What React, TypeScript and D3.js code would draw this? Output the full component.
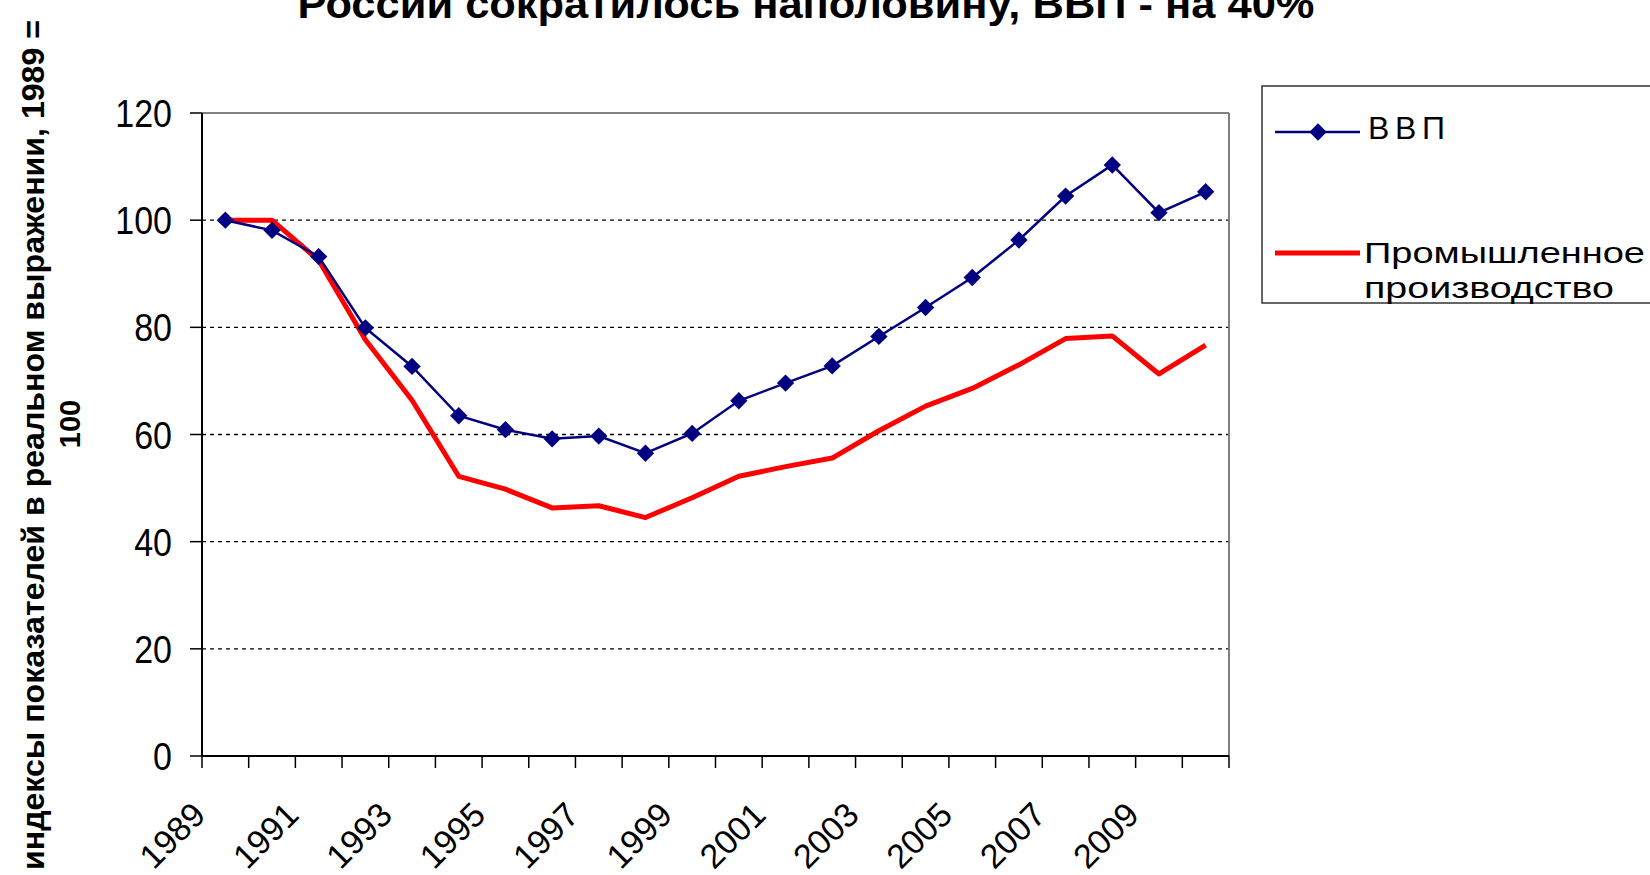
import React, { useEffect, useRef } from 'react';
import * as d3 from 'd3';

const years = ['1989', '1990', '1991', '1992', '1993', '1994', '1995', '1996', '1997', '1998', '1999',
  '2000', '2001', '2002', '2003', '2004', '2005', '2006', '2007', '2008', '2009', '2010'];

const tickYears = ['1989', '1991', '1993', '1995', '1997', '1999', '2001', '2003', '2005', '2007', '2009'];

const gdp = [100, 98.1, 93.2, 79.9, 72.7, 63.5, 60.9, 59.2, 59.7, 56.5, 60.2,
  66.3, 69.6, 72.8, 78.3, 83.7, 89.3, 96.3, 104.5, 110.3, 101.4, 105.3];

const industry = [100, 100, 92.5, 77.7, 66.4, 52.2, 49.8, 46.3, 46.7, 44.5, 48.2,
  52.2, 54.0, 55.6, 60.7, 65.3, 68.6, 73.0, 77.9, 78.4, 71.3, 76.7];

const yTicks = [0, 20, 40, 60, 80, 100, 120];

const seriesNames = ['ВВП', 'Промышленное', 'производство'];

const titleText = 'России сократилось наполовину, ВВП - на 40%';
const yLabel1 = 'индексы показателей в реальном выражении, 1989 =';
const yLabel2 = '100';

const FONT = 'Arial, "Liberation Sans", sans-serif';

function Chart() {
  const ref = useRef<SVGSVGElement>(null);

  useEffect(() => {
    const svg = d3.select(ref.current);
    svg.selectAll('*').remove();

    const left = 202, right = 1229, top = 113, bottom = 756;

    const x = d3.scaleBand().domain(years).range([left, right]).padding(0);
    const y = d3.scaleLinear().domain([0, 120]).range([bottom, top]);
    const cx = (yr: string) => (x(yr) as number) + x.bandwidth() / 2;

    // title (only its last line shows, top is cut by the picture edge)
    svg.append('text')
      .attr('x', 806).attr('y', 18)
      .attr('text-anchor', 'middle')
      .attr('font-family', FONT).attr('font-weight', 'bold').attr('font-size', 40)
      .attr('textLength', 1017).attr('lengthAdjust', 'spacingAndGlyphs')
      .text(titleText);

    // y axis title
    svg.append('text')
      .attr('transform', 'translate(44,870) rotate(-90)')
      .attr('font-family', FONT).attr('font-weight', 'bold').attr('font-size', 31)
      .attr('textLength', 850).attr('lengthAdjust', 'spacingAndGlyphs')
      .text(yLabel1);
    svg.append('text')
      .attr('transform', 'translate(80,424) rotate(-90)')
      .attr('text-anchor', 'middle')
      .attr('font-family', FONT).attr('font-weight', 'bold').attr('font-size', 29)
      .text(yLabel2);

    // grid
    svg.append('g').selectAll('line')
      .data(yTicks.filter(t => t > 0 && t < 120))
      .enter().append('line')
      .attr('x1', left).attr('x2', right)
      .attr('y1', d => y(d)).attr('y2', d => y(d))
      .attr('stroke', '#000').attr('stroke-width', 1.3)
      .attr('stroke-dasharray', '4,4');

    // frame
    svg.append('line').attr('x1', left).attr('x2', right).attr('y1', top).attr('y2', top)
      .attr('stroke', '#808080').attr('stroke-width', 2);
    svg.append('line').attr('x1', right).attr('x2', right).attr('y1', top).attr('y2', bottom)
      .attr('stroke', '#808080').attr('stroke-width', 2);
    svg.append('line').attr('x1', left).attr('x2', left).attr('y1', top).attr('y2', bottom)
      .attr('stroke', '#000').attr('stroke-width', 2);
    svg.append('line').attr('x1', left).attr('x2', right).attr('y1', bottom).attr('y2', bottom)
      .attr('stroke', '#000').attr('stroke-width', 2);

    // y ticks + labels
    const yg = svg.append('g');
    yg.selectAll('line').data(yTicks).enter().append('line')
      .attr('x1', left - 12).attr('x2', left)
      .attr('y1', d => y(d)).attr('y2', d => y(d))
      .attr('stroke', '#000').attr('stroke-width', 1.5);
    yg.selectAll('text').data(yTicks).enter().append('text')
      .attr('transform', d => 'translate(172,' + y(d) + ') scale(1,1.15)')
      .attr('dy', '0.36em')
      .attr('text-anchor', 'end')
      .attr('font-family', FONT).attr('font-size', 34)
      .text(d => d);

    // x ticks at band edges
    const edges = years.map(yr => x(yr) as number).concat([right]);
    svg.append('g').selectAll('line').data(edges).enter().append('line')
      .attr('x1', d => d).attr('x2', d => d)
      .attr('y1', bottom).attr('y2', bottom + 12)
      .attr('stroke', '#000').attr('stroke-width', 1.5);

    svg.append('g').selectAll('text').data(tickYears).enter().append('text')
      .attr('transform', d => 'translate(' + (cx(d) - 18) + ',817) rotate(-45)')
      .attr('text-anchor', 'end')
      .attr('font-family', FONT).attr('font-size', 34)
      .text(d => d);

    // lines
    const line = d3.line<number>()
      .x((d, i) => cx(years[i]))
      .y(d => y(d));

    svg.append('path')
      .attr('d', line(industry))
      .attr('fill', 'none').attr('stroke', '#ff0000').attr('stroke-width', 5)
      .attr('stroke-linejoin', 'round');

    svg.append('path')
      .attr('d', line(gdp))
      .attr('fill', 'none').attr('stroke', '#000080').attr('stroke-width', 2.5);

    const diamond = d3.symbol().type(d3.symbolSquare).size(150);
    svg.append('g').selectAll('path').data(gdp).enter().append('path')
      .attr('d', diamond)
      .attr('transform', (d, i) => 'translate(' + cx(years[i]) + ',' + y(d) + ') rotate(45)')
      .attr('fill', '#000080');

    // legend
    const lg = svg.append('g');
    lg.append('rect')
      .attr('x', 1262).attr('y', 86).attr('width', 420).attr('height', 217)
      .attr('fill', '#fff').attr('stroke', '#333').attr('stroke-width', 1.5);
    lg.append('line').attr('x1', 1275).attr('x2', 1360).attr('y1', 132).attr('y2', 132)
      .attr('stroke', '#000080').attr('stroke-width', 2.5);
    lg.append('path').attr('d', diamond)
      .attr('transform', 'translate(1318,132) rotate(45)').attr('fill', '#000080');
    lg.append('text').attr('x', 1368).attr('y', 139)
      .attr('font-family', FONT).attr('font-size', 32)
      .attr('textLength', 77).attr('lengthAdjust', 'spacing')
      .text(seriesNames[0]);
    lg.append('line').attr('x1', 1275).attr('x2', 1360).attr('y1', 253).attr('y2', 253)
      .attr('stroke', '#ff0000').attr('stroke-width', 5);
    lg.append('text').attr('x', 1364).attr('y', 263)
      .attr('font-family', FONT).attr('font-size', 30)
      .attr('textLength', 281).attr('lengthAdjust', 'spacingAndGlyphs')
      .text(seriesNames[1]);
    lg.append('text').attr('x', 1364).attr('y', 298)
      .attr('font-family', FONT).attr('font-size', 30)
      .attr('textLength', 250).attr('lengthAdjust', 'spacingAndGlyphs')
      .text(seriesNames[2]);
  }, []);

  return <svg ref={ref} width={1650} height={875} style={{ position: 'absolute', left: 0, top: 0, background: '#fff' }} />;
}

export default function App() {
  return <Chart />;
}
